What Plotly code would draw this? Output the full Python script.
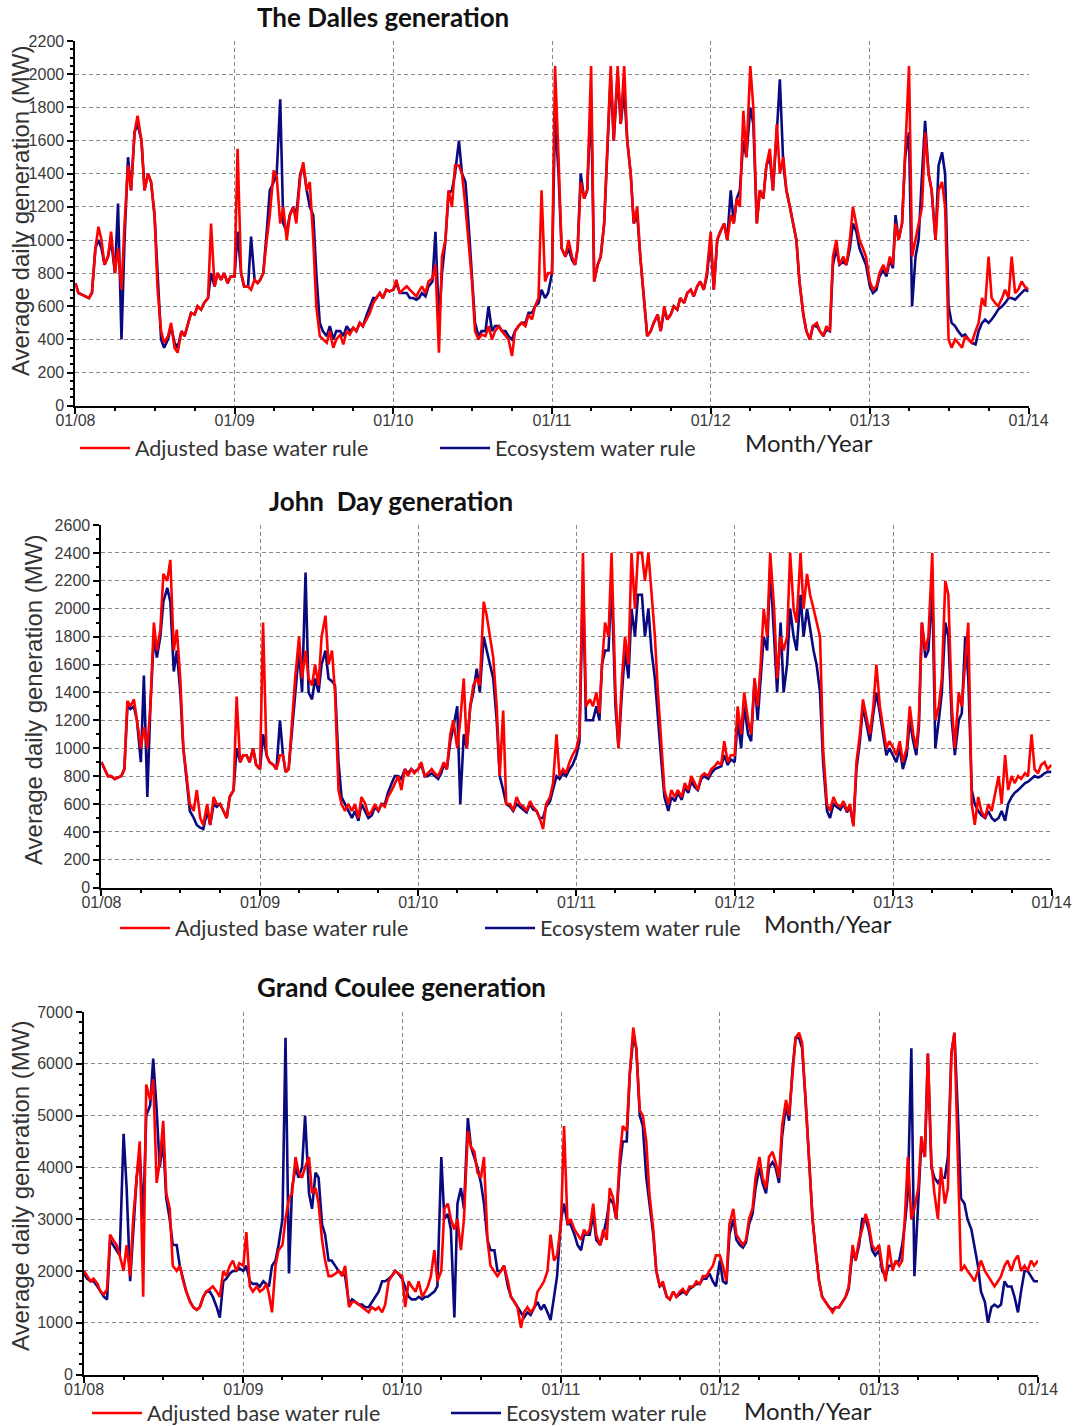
import plotly.graph_objects as go

W, H = 1073, 1426

# ---------------- data (4 samples per month, Jan 2008 - Dec 2013, plus 01/2014) ----------------
sample_days = [1, 8, 16, 23]
dates = [f"{y}-{m:02d}-{d:02d}" for y in range(2008, 2014) for m in range(1, 13) for d in sample_days] + ["2014-01-01"]

dalles_base = [
    740, 680, 670, 660, 650, 680, 950, 1080, 1000, 850, 900, 1050, 800, 950, 700, 1100, 1450, 1300, 1650, 1750, 1600, 1300, 1400, 1350, 1150, 700, 450, 380, 420, 500, 350, 320, 450, 420, 500, 560, 550, 600, 580, 620, 650, 1100, 720, 800, 760, 800, 740, 780,
    780, 1550, 800, 720, 720, 700, 760, 740, 760, 800, 1000, 1150, 1420, 1380, 1100, 1200, 1000, 1150, 1200, 1100, 1380, 1470, 1300, 1350, 1000, 600, 420, 400, 380, 450, 350, 400, 430, 370, 450, 430, 470, 450, 500, 480, 520, 560, 620, 650, 680, 650, 700, 690,
    700, 760, 680, 700, 720, 700, 680, 660, 690, 720, 680, 750, 770, 850, 320, 900, 1000, 1300, 1200, 1450, 1450, 1400, 1200, 1000, 750, 450, 400, 430, 420, 480, 400, 450, 480, 450, 420, 400, 300, 450, 480, 500, 480, 550, 520, 600, 650, 1300, 750, 800,
    800, 2050, 1500, 950, 900, 1000, 900, 850, 950, 1350, 1250, 1300, 2050, 750, 850, 900, 1100, 1500, 2050, 1600, 2050, 1700, 2050, 1600, 1400, 1100, 1200, 900, 600, 420, 450, 500, 550, 450, 600, 520, 550, 600, 580, 650, 620, 680, 700, 660, 720, 750, 700, 800,
    1050, 700, 1000, 1050, 1100, 1000, 1150, 1100, 1250, 1200, 1780, 1500, 2050, 1800, 1100, 1300, 1250, 1450, 1550, 1300, 1700, 1400, 1500, 1300, 1200, 1100, 1000, 750, 550, 450, 400, 480, 500, 450, 420, 480, 450, 900, 1000, 850, 900, 850, 1000, 1200, 1100, 1000, 950, 900,
    750, 700, 720, 800, 850, 800, 900, 850, 1100, 1000, 1100, 1500, 2050, 900, 1000, 1100, 1200, 1650, 1400, 1300, 1000, 1300, 1350, 1200, 400, 350, 400, 380, 350, 420, 400, 380, 450, 500, 650, 600, 900, 650, 620, 600, 650, 700, 650, 900, 680, 700, 750, 720,
    700,
]
dalles_eco = [
    740, 680, 670, 660, 650, 680, 950, 1000, 950, 850, 900, 1000, 800, 1220, 400, 1000, 1500, 1300, 1650, 1700, 1600, 1300, 1400, 1350, 1150, 800, 400, 350, 400, 480, 380, 350, 450, 420, 500, 560, 550, 600, 580, 620, 650, 800, 720, 800, 760, 800, 740, 780,
    780, 1050, 800, 720, 720, 1020, 760, 740, 760, 800, 1050, 1300, 1350, 1400, 1850, 1100, 1050, 1150, 1200, 1150, 1400, 1450, 1300, 1200, 1150, 800, 500, 450, 420, 480, 400, 450, 450, 420, 480, 450, 470, 450, 500, 480, 550, 600, 650, 650, 680, 650, 700, 690,
    700, 740, 680, 680, 680, 650, 650, 640, 650, 680, 660, 720, 750, 1050, 500, 800, 1000, 1280, 1300, 1400, 1600, 1400, 1350, 1100, 800, 500, 420, 450, 450, 600, 450, 480, 480, 450, 450, 420, 400, 450, 480, 500, 500, 560, 560, 600, 620, 700, 650, 680,
    800, 1750, 1400, 950, 900, 950, 880, 850, 950, 1400, 1250, 1300, 1850, 750, 850, 900, 1100, 1500, 2000, 1600, 2000, 1700, 1900, 1600, 1400, 1100, 1150, 900, 600, 420, 450, 500, 550, 450, 580, 520, 550, 600, 580, 650, 620, 680, 700, 660, 720, 750, 700, 780,
    1000, 700, 1000, 1050, 1100, 1000, 1300, 1100, 1250, 1300, 1600, 1500, 1800, 1700, 1100, 1300, 1250, 1450, 1500, 1300, 1650, 1970, 1450, 1300, 1200, 1100, 1000, 750, 550, 450, 400, 480, 480, 450, 420, 460, 450, 850, 950, 850, 870, 850, 950, 1100, 1050, 950, 900, 850,
    720, 680, 700, 780, 820, 780, 880, 830, 1150, 1000, 1100, 1500, 1650, 600, 900, 1000, 1400, 1720, 1400, 1300, 1000, 1450, 1530, 1400, 600, 500, 480, 450, 420, 430, 400, 380, 370, 450, 500, 520, 500, 520, 550, 580, 600, 620, 650, 650, 640, 660, 680, 700,
    690,
]

johnday_base = [
    900, 850, 800, 800, 780, 790, 800, 850, 1340, 1300, 1350, 1200, 1000, 1150, 1000, 1300, 1900, 1700, 1850, 2250, 2200, 2350, 1700, 1850, 1500, 1000, 800, 600, 550, 700, 500, 450, 600, 450, 650, 600, 600, 550, 500, 650, 700, 1370, 900, 950, 950, 900, 1000, 880,
    850, 1900, 950, 900, 880, 850, 950, 950, 830, 850, 1200, 1500, 1800, 1500, 1700, 1500, 1450, 1600, 1450, 1800, 1950, 1600, 1700, 1400, 700, 600, 550, 600, 550, 600, 500, 650, 600, 520, 550, 600, 550, 600, 580, 650, 700, 750, 800, 700, 850, 800, 850, 820,
    850, 900, 800, 820, 850, 820, 800, 850, 900, 850, 1100, 1200, 1000, 1200, 1500, 1000, 1300, 1450, 1500, 1450, 2050, 1950, 1800, 1650, 1300, 800, 1270, 600, 600, 550, 650, 600, 580, 550, 620, 580, 550, 500, 420, 600, 650, 750, 1100, 800, 850, 820, 900, 950,
    1000, 1100, 2400, 1300, 1350, 1300, 1400, 1250, 1600, 1900, 1800, 2400, 1400, 1000, 1500, 1800, 1600, 2400, 2000, 2400, 2400, 2200, 2400, 2100, 1800, 1400, 1000, 700, 600, 700, 650, 700, 650, 750, 700, 800, 750, 700, 800, 820, 800, 850, 870, 900, 880, 1050, 900, 950,
    950, 1300, 1100, 1400, 1200, 1100, 1500, 1300, 1600, 2000, 1800, 2400, 2000, 1500, 1800, 1700, 1800, 2400, 2000, 1900, 2400, 2000, 2250, 2100, 2000, 1900, 1800, 1000, 600, 550, 650, 600, 580, 620, 550, 600, 440, 900, 1100, 1350, 1200, 1100, 1300, 1600, 1300, 1150, 1000, 1050,
    1000, 950, 1050, 900, 1000, 1300, 1100, 1000, 1200, 1900, 1700, 1800, 2400, 1200, 1300, 1500, 2200, 2100, 1300, 1000, 1400, 1300, 1600, 1900, 600, 450, 650, 550, 500, 600, 550, 650, 800, 600, 950, 700, 800, 750, 800, 780, 820, 800, 1100, 850, 820, 880, 900, 850,
    880,
]
johnday_eco = [
    900, 850, 800, 800, 780, 790, 800, 850, 1300, 1280, 1300, 1200, 900, 1520, 650, 1300, 1800, 1650, 1800, 2050, 2150, 2050, 1550, 1700, 1400, 1000, 750, 550, 500, 450, 430, 420, 550, 450, 600, 580, 600, 550, 500, 650, 700, 1000, 900, 950, 950, 900, 1000, 880,
    850, 1100, 950, 900, 880, 850, 1200, 950, 830, 850, 1150, 1400, 1700, 1400, 2260, 1400, 1350, 1500, 1400, 1600, 1700, 1500, 1480, 1450, 900, 650, 600, 550, 500, 550, 480, 600, 550, 500, 520, 580, 550, 600, 600, 680, 750, 800, 800, 780, 850, 820, 850, 830,
    850, 880, 800, 800, 820, 800, 780, 820, 880, 850, 1050, 1150, 1300, 600, 1100, 1000, 1300, 1400, 1570, 1400, 1800, 1700, 1600, 1500, 1200, 800, 700, 600, 580, 550, 600, 580, 560, 540, 600, 560, 550, 500, 500, 580, 620, 700, 800, 780, 820, 800, 850, 880,
    950, 1050, 2200, 1200, 1200, 1200, 1300, 1200, 1600, 1700, 1700, 2200, 1300, 1000, 1400, 1700, 1500, 2000, 1800, 2100, 2100, 1800, 2000, 1700, 1500, 1200, 900, 650, 550, 650, 620, 680, 630, 720, 680, 760, 720, 700, 780, 800, 780, 820, 850, 860, 870, 950, 880, 920,
    900, 1200, 1000, 1300, 1100, 1050, 1500, 1200, 1500, 1800, 1700, 2300, 1800, 1400, 1900, 1400, 1600, 2000, 1800, 1700, 2100, 1800, 2000, 1850, 1700, 1600, 1400, 900, 550, 500, 600, 580, 560, 600, 540, 580, 450, 850, 1050, 1300, 1150, 1050, 1250, 1400, 1250, 1100, 950, 1000,
    950, 900, 1000, 850, 950, 1200, 1050, 950, 1150, 1900, 1650, 1700, 2150, 1000, 1200, 1400, 1900, 1800, 1200, 950, 1200, 1250, 1800, 1500, 700, 600, 550, 520, 500, 550, 500, 480, 500, 550, 480, 600, 650, 680, 700, 720, 750, 760, 780, 800, 790, 800, 820, 830,
    830,
]

coulee_base = [
    2000, 1900, 1800, 1850, 1750, 1600, 1550, 1650, 2700, 2600, 2500, 2300, 2000, 2500, 1900, 3000, 3900, 4500, 1500, 5600, 5300, 5700, 3700, 4100, 4900, 3500, 3200, 2100, 2000, 2100, 1800, 1600, 1400, 1300, 1250, 1300, 1500, 1600, 1650, 1700, 1600, 1500, 2000, 1900, 2100, 2200, 2000, 2150,
    2100, 2750, 1700, 1600, 1700, 1600, 1650, 1750, 1550, 1200, 2100, 2400, 2500, 3000, 3400, 3500, 4200, 3900, 3800, 4000, 4200, 3500, 3600, 3300, 2600, 2200, 1900, 1900, 1950, 2000, 1900, 2100, 1300, 1400, 1400, 1350, 1300, 1250, 1200, 1300, 1250, 1300, 1200, 1350, 1800, 1900, 2000, 1950,
    1900, 1300, 1800, 1700, 1600, 1800, 1500, 1600, 1700, 1900, 2400, 1800, 2000, 3200, 3300, 3000, 2800, 3000, 2400, 3000, 4700, 4400, 4300, 3900, 3800, 4200, 2600, 2100, 2000, 1900, 2000, 2100, 1800, 1500, 1400, 1300, 900, 1200, 1300, 1200, 1300, 1600, 1700, 1800, 2000, 2700, 2200, 2300,
    2900, 4800, 2900, 3000, 2800, 2700, 2600, 2800, 2700, 2800, 3300, 2700, 2500, 2800, 2600, 3600, 3400, 3000, 4200, 4800, 4700, 5800, 6700, 6300, 5100, 5000, 4500, 3500, 2800, 2000, 1700, 1800, 1500, 1450, 1600, 1500, 1600, 1650, 1550, 1700, 1700, 1800, 1750, 1900, 1900, 2000, 2100, 2300,
    2300, 2100, 1800, 2900, 3200, 2700, 2600, 2500, 2600, 3000, 3200, 3800, 4200, 3800, 3600, 4200, 4300, 4100, 3800, 4800, 5300, 5000, 5800, 6500, 6600, 6400, 5300, 4300, 3000, 2400, 1800, 1500, 1400, 1300, 1200, 1300, 1300, 1400, 1500, 1700, 2500, 2200, 2600, 2800, 3100, 2900, 2500, 2400,
    2500, 2100, 1800, 2500, 2000, 2200, 2100, 2200, 3000, 4200, 3000, 3200, 3600, 4600, 4200, 6200, 4100, 3500, 3000, 4000, 3300, 3600, 6200, 6600, 4400, 2000, 2100, 2000, 1900, 1800, 2000, 2200, 2000, 1900, 1800, 1700, 1800, 1900, 2100, 2200, 2000, 2200, 2300, 2000, 2100, 2000, 2200, 2100,
    2200,
]
coulee_eco = [
    1950, 1850, 1800, 1800, 1700, 1600, 1500, 1450, 2600, 2500, 2400, 2300, 4650, 3600, 1800, 2800, 3800, 4300, 3000, 5000, 5200, 6100, 5100, 4000, 4500, 3400, 3000, 2500, 2500, 2100, 1800, 1600, 1400, 1300, 1250, 1300, 1500, 1600, 1600, 1500, 1300, 1100, 1800, 1850, 1950, 2000, 2000, 2050,
    2000, 2100, 1800, 1750, 1750, 1700, 1800, 1750, 1700, 2100, 2200, 2500, 3000, 6500, 1950, 3600, 4000, 3800, 4000, 5000, 3500, 3200, 3900, 3800, 2900, 2700, 2200, 2200, 2100, 2000, 1950, 1900, 1350, 1450, 1400, 1350, 1350, 1300, 1300, 1400, 1500, 1600, 1800, 1800, 1850, 1900, 2000, 1950,
    1850, 1700, 1500, 1450, 1450, 1500, 1450, 1500, 1500, 1550, 1600, 1700, 4200, 3000, 3100, 2800, 1100, 3300, 3600, 3200, 4950, 4400, 4200, 4000, 3700, 3300, 2600, 2400, 2400, 2000, 2000, 2100, 1700, 1500, 1400, 1300, 1200, 1100, 1200, 1150, 1300, 1400, 1250, 1350, 1200, 1050, 1500, 1900,
    3000, 3300, 2900, 2900, 2700, 2500, 2400, 2700, 2700, 2700, 3100, 2600, 2500, 2700, 3000, 3400, 3300, 3000, 4000, 4500, 4500, 5800, 6500, 6300, 5000, 4800, 3800, 3300, 2700, 2000, 1700, 1750, 1500, 1450, 1600, 1500, 1550, 1600, 1550, 1650, 1700, 1750, 1750, 1850, 1850, 1950, 1800, 1700,
    2200, 1800, 1750, 2700, 3000, 2600, 2500, 2450, 2550, 2900, 3100, 3600, 4000, 3700, 3500, 4000, 4100, 4000, 3700, 4600, 5200, 4900, 5900, 6500, 6500, 6300, 5300, 4300, 3000, 2400, 1800, 1500, 1400, 1300, 1250, 1300, 1300, 1400, 1500, 1650, 2400, 2200, 2500, 3000, 3000, 2800, 2400, 2300,
    2400, 2000, 1900, 2100, 2100, 2150, 2200, 2500, 2900, 3500, 6300, 1900, 3300, 4500, 4200, 6200, 4000, 3800, 3700, 3800, 3800, 4200, 6200, 6600, 5000, 3400, 3300, 3000, 2800, 2500, 2100, 1600, 1400, 1000, 1300, 1350, 1300, 1350, 1800, 1700, 1700, 1500, 1200, 1600, 2000, 2000, 1900, 1800,
    1800,
]

titles = ["The Dalles generation", "John  Day generation", "Grand Coulee generation"]
series_names = ["Adjusted base water rule", "Ecosystem water rule"]
y_title = "Average daily generation (MW)"
x_title = "Month/Year"
y_ranges = [(2200, 200, 50), (2600, 200, 100), (7000, 1000, 200)]
panels = [(dalles_base, dalles_eco), (johnday_base, johnday_eco), (coulee_base, coulee_eco)]

# ---------------- layout geometry (pixels) ----------------
px_x = [(75.4, 1028.6), (101.4, 1051.5), (84.0, 1038.0)]
px_y = [(41.2, 405.7), (525.0, 887.7), (1012.0, 1374.5)]
title_pos = [(383, 17), (391, 501), (401, 987)]
ytitle_pos = [(20, 211), (34, 700), (20, 1186)]
xtitle_pos = [(809, 442), (828, 923), (808, 1410)]
legend_pos = [(75, 448), (115, 928), (87, 1413)]     # left x of legend, centre y
legend_entry = [295, 300, 294]

RED = "#ff0000"
BLUE = "#0a0a80"
TICKFONT = dict(family="Liberation Sans, Arial, sans-serif", size=16, color="#3a3a3a")

fig = go.Figure()
annotations = []
layout_axes = {}
for i, ((base, eco), (ymax, ydt, yminor)) in enumerate(zip(panels, y_ranges)):
    n = i + 1
    xa = "x" if n == 1 else f"x{n}"
    ya = "y" if n == 1 else f"y{n}"
    leg = "legend" if n == 1 else f"legend{n}"
    fig.add_trace(go.Scatter(x=dates, y=eco, mode="lines", name=series_names[1],
                             line=dict(color=BLUE, width=2.6), xaxis=xa, yaxis=ya,
                             legend=leg, legendrank=2))
    fig.add_trace(go.Scatter(x=dates, y=base, mode="lines", name=series_names[0],
                             line=dict(color=RED, width=2.6), xaxis=xa, yaxis=ya,
                             legend=leg, legendrank=1))
    x0, x1 = px_x[i]
    yt, yb = px_y[i]
    layout_axes[f"xaxis{'' if n == 1 else n}"] = dict(
        domain=[x0 / W, x1 / W], anchor=ya, type="date", automargin=False,
        range=["2008-01-01", "2014-01-01"], dtick="M12", tick0="2008-01-01",
        tickformat="%m/%y", ticks="outside", ticklen=6, tickwidth=2, tickcolor="black",
        ticklabelstandoff=-7,
        showline=True, linecolor="black", linewidth=2,
        showgrid=True, gridcolor="#8a8a8a", gridwidth=1, griddash="4px,3px",
        minor=dict(dtick="M3", ticks="outside", ticklen=3, tickwidth=1.5, tickcolor="black", showgrid=False),
        tickfont=TICKFONT, zeroline=False, fixedrange=True,
    )
    layout_axes[f"yaxis{'' if n == 1 else n}"] = dict(
        domain=[1 - yb / H, 1 - yt / H], anchor=xa, automargin=False,
        range=[0, ymax], dtick=ydt, tick0=0,
        ticks="outside", ticklen=6, tickwidth=2, tickcolor="black",
        showline=True, linecolor="black", linewidth=2,
        showgrid=True, gridcolor="#8a8a8a", gridwidth=1, griddash="4px,3px",
        minor=dict(dtick=yminor, ticks="outside", ticklen=3, tickwidth=1.5, tickcolor="black", showgrid=False),
        tickfont=TICKFONT, zeroline=False, fixedrange=True,
    )
    tx, ty = title_pos[i]
    annotations.append(dict(text=f"<b>{titles[i]}</b>", x=tx / W, y=1 - ty / H, xref="paper", yref="paper",
                            xanchor="center", yanchor="middle", showarrow=False,
                            font=dict(family="Lato, Open Sans, sans-serif", size=26, color="#111111")))
    yx, yy = ytitle_pos[i]
    annotations.append(dict(text=y_title, x=yx / W, y=1 - yy / H, xref="paper", yref="paper",
                            xanchor="center", yanchor="middle", textangle=-90, showarrow=False,
                            font=dict(family="Liberation Sans, Arial, sans-serif", size=24, color="#333333")))
    mx, my = xtitle_pos[i]
    annotations.append(dict(text=x_title, x=mx / W, y=1 - my / H, xref="paper", yref="paper",
                            xanchor="center", yanchor="middle", showarrow=False, borderpad=0,
                            font=dict(family="Lato, Open Sans, sans-serif", size=24, color="#222222")))
    lx, ly = legend_pos[i]
    layout_axes[leg] = dict(
        x=lx / W, y=1 - ly / H, xref="paper", yref="paper", xanchor="left", yanchor="middle",
        orientation="h", bgcolor="rgba(0,0,0,0)", borderwidth=0,
        font=dict(family="Lato, Open Sans, sans-serif", size=21.5, color="#333333"),
        entrywidth=legend_entry[i], entrywidthmode="pixels", traceorder="normal", itemwidth=50,
    )

fig.update_layout(
    width=W, height=H, margin=dict(l=0, r=0, t=0, b=0, autoexpand=False),
    paper_bgcolor="white", plot_bgcolor="white",
    showlegend=True, annotations=annotations, **layout_axes,
)

fig.write_html("out.html")
